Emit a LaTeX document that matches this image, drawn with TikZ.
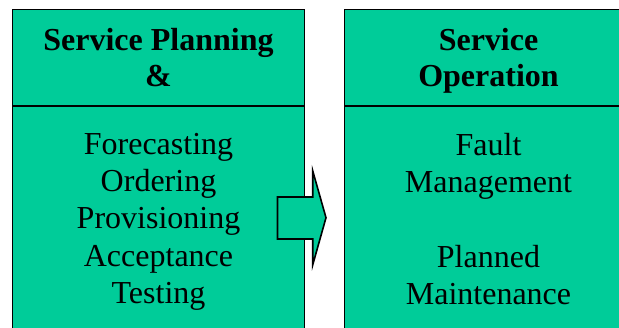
\documentclass[tikz,border=0pt]{standalone}
\usepackage{fontspec}
\setmainfont{Liberation Serif}
\usetikzlibrary{positioning}
\definecolor{svcgreen}{RGB}{0,204,153}

\begin{document}
\begin{tikzpicture}[x=1pt, y=1pt,
    panel/.style={draw=black, fill=svcgreen, line width=1.6pt, inner sep=0pt, outer sep=0pt},
    headtext/.style={inner sep=0pt, align=center, font=\fontsize{32}{36}\selectfont\bfseries},
    bodytext/.style={inner sep=0pt, align=center, font=\fontsize{32}{37.3}\selectfont}]
    \useasboundingbox (0,0) rectangle (619,-327);
    \clip (0,0) rectangle (619,-327);

    % left column
    \node[panel, minimum width=292pt, minimum height=96.5pt, anchor=north west] (planhead) at (12.5,-9.5) {};
    \node[panel, minimum width=292pt, minimum height=240pt, anchor=north] (planbody) at (planhead.south) {};
    \node[headtext] (plantitle) at (planhead.center) {Service Planning\\\&};
    \node[bodytext, anchor=north, below=27pt of planhead.south] (plansteps)
        {Forecasting\\Ordering\\Provisioning\\Acceptance\\Testing};

    % right column
    \node[panel, minimum width=288pt, minimum height=96.5pt, anchor=north west] (ophead) at (344.5,-9.5) {};
    \node[panel, minimum width=288pt, minimum height=240pt, anchor=north] (opbody) at (ophead.south) {};
    \node[headtext] (optitle) at ([yshift=-3pt]ophead.center) {Service\\Operation};
    \node[bodytext, anchor=north, below=27pt of ophead.south] (opsteps)
        {Fault\\Management\\[37.3pt]Planned\\Maintenance};

    % block arrow
    \draw[fill=svcgreen, line width=1.6pt, line join=miter]
        (277.5,-197) -- (312.7,-197) -- (312.7,-170.7) -- (326,-217.7)
        -- (312.7,-265) -- (312.7,-239) -- (277.5,-239) -- cycle;
\end{tikzpicture}
\end{document}
